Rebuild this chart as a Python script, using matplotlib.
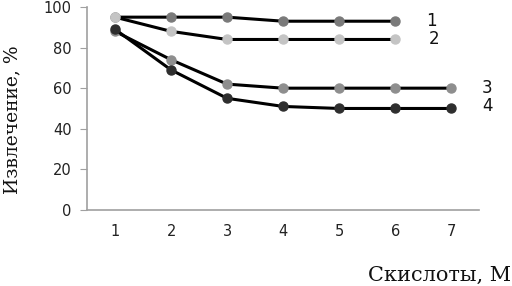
import matplotlib
matplotlib.use("Agg")
import matplotlib.pyplot as plt

x = [1, 2, 3, 4, 5, 6, 7]
s1 = [95, 95, 95, 93, 93, 93]
s2 = [95, 88, 84, 84, 84, 84]
s3 = [88, 74, 62, 60, 60, 60, 60]
s4 = [89, 69, 55, 51, 50, 50, 50]
series = [s1, s2, s3, s4]
labels = ["1", "2", "3", "4"]
mcolors = ["#7a7a7a", "#c4c4c4", "#8e8e8e", "#2e2e2e"]
yticks = [0, 20, 40, 60, 80, 100]

fig = plt.figure(figsize=(5.12, 2.86), dpi=100)
ax = fig.add_axes([0.170, 0.266, 0.766, 0.7095])

for s, c in zip(series, mcolors):
    ax.plot(x[:len(s)], s, color="black", lw=2.2, marker="o", ms=6.5,
            mfc=c, mec=c, zorder=3)

label_pos = [(6.55, 93), (6.6, 84), (7.55, 60), (7.55, 51)]
for (lx, ly), t in zip(label_pos, labels):
    ax.text(lx, ly, t, fontsize=12, color="#111111", va="center", ha="left",
            clip_on=False)

ax.set_xlim(0.5, 7.5)
ax.set_ylim(0, 100)
ax.set_xticks(x)
ax.set_yticks(yticks)
for sp in ["top", "right"]:
    ax.spines[sp].set_visible(False)
for sp in ["left", "bottom"]:
    ax.spines[sp].set_color("#a0a0a0")
    ax.spines[sp].set_linewidth(1.2)
ax.tick_params(axis="y", length=5, color="#a0a0a0", labelsize=10.5, labelcolor="#222222", pad=6)
ax.tick_params(axis="x", length=0, labelsize=10.5, labelcolor="#222222", pad=10)

fig.text(0.024, 0.58, "Извлечение, %", rotation=90, family="DejaVu Serif",
         fontsize=13.5, va="center", ha="center", color="#111111")
fig.text(0.999, 0.005, "Скислоты, М", family="DejaVu Serif", fontsize=15,
         ha="right", va="bottom", color="#111111")

fig.savefig("out.png", dpi=100)
